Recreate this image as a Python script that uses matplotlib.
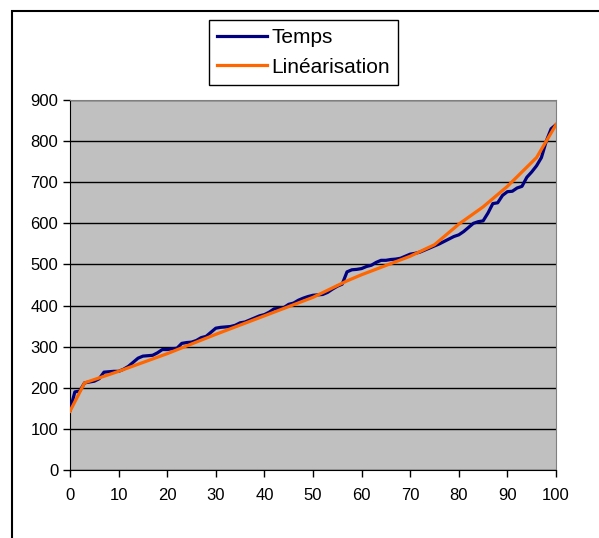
import matplotlib
matplotlib.use("Agg")
import matplotlib.pyplot as plt
from matplotlib.patches import Rectangle

# mesures (temps) pour x = 0..100
x_temps = list(range(101))
temps = [145, 190, 192, 212, 214, 216, 222, 238, 239, 240,
         240, 245, 252, 262, 272, 277, 278, 279, 285, 293,
         293, 295, 296, 308, 310, 311, 315, 322, 325, 335,
         345, 347, 348, 349, 352, 358, 360, 365, 370, 375,
         378, 384, 392, 393, 395, 403, 406, 413, 418, 422,
         425, 426, 427, 432, 440, 447, 452, 482, 487, 488,
         490, 495, 498, 505, 510, 510, 512, 513, 515, 520,
         525, 527, 530, 535, 540, 545, 550, 556, 562, 568,
         572, 580, 590, 600, 604, 606, 625, 648, 650, 668,
         677, 678, 686, 690, 712, 725, 740, 760, 800, 830,
         840]

# linearisation (morceaux)
x_lin = [0, 3, 10, 20, 30, 40, 50, 57, 60, 70, 75, 80, 85, 90, 96, 100]
y_lin = [143, 212, 240, 283, 330, 375, 420, 460, 475, 520, 548, 598, 640, 690, 760, 840]

plt.rcParams['font.family'] = ['Liberation Sans', 'DejaVu Sans']

fig = plt.figure(figsize=(5.99, 5.38), dpi=100)
ax = fig.add_axes([70/599, 68/538, 486/599, 370/538])
ax.set_facecolor('#C0C0C0')

ax.plot(x_temps, temps, color='#000080', lw=2.3, label='Temps', zorder=3)
ax.plot(x_lin, y_lin, color='#FF6600', lw=2.3, label='Linéarisation', zorder=4)

ax.set_xlim(0, 100)
ax.set_ylim(0, 900)
ax.set_xticks(range(0, 101, 10))
ax.set_yticks(range(0, 901, 100))
ax.yaxis.grid(True, color='black', lw=1)
ax.set_axisbelow(True)
ax.tick_params(direction='out', length=5, width=1, labelsize=12, colors='black')
ax.tick_params(axis='x', pad=8)
for s in ['top', 'right']:
    ax.spines[s].set_color('#808080')
for s in ['left', 'bottom']:
    ax.spines[s].set_color('black')

leg = fig.legend(loc='upper left', bbox_to_anchor=(209/599, 1 - 20/538),
                 fontsize=15, frameon=True, fancybox=False, framealpha=1,
                 edgecolor='black', handlelength=2.4, handletextpad=0.2,
                 borderpad=0.4, labelspacing=0.5, borderaxespad=0)
leg.get_frame().set_linewidth(1)

# cadre exterieur
fig.patches.append(Rectangle((12/599, -0.1), 1.0, 0.1 + (538 - 11)/538,
                             transform=fig.transFigure, fill=False,
                             edgecolor='black', lw=1.5))

plt.savefig('out.png', dpi=100)
